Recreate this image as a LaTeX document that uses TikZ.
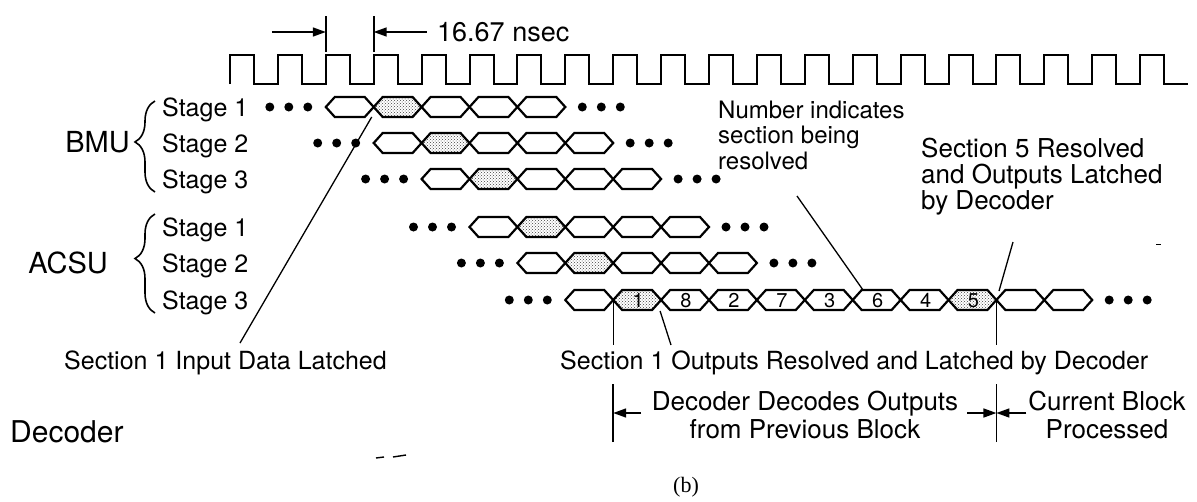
\documentclass[tikz,border=0pt]{standalone}
\usepackage{fontspec}
\setmainfont{TeX Gyre Heros}
\newfontfamily\capfont{Liberation Serif}
\usetikzlibrary{arrows.meta, decorations.pathreplacing, patterns}

\newcommand{\clkper}{47.9}
% one hexagon of a timing row, left tip at (#2,#3)
\newcommand{\hexcell}[3][]{%
  \draw[hexline,#1] (#2,#3) -- ++(9,-10) -- ++({\clkper-18},0) -- ++(9,10)
    -- ++(-9,10) -- ++({18-\clkper},0) -- cycle;}

\begin{document}
\begin{tikzpicture}[x=1pt,y=-1pt,
    hexline/.style={line width=2.2pt, line join=miter},
    hexfill/.style={pattern=crosshatch dots, pattern color=black!75},
    leader/.style={line width=1.3pt},
    dimline/.style={line width=1.6pt},
    dimarrow/.style={line width=1.6pt, -{Triangle[length=13pt,width=9pt]}},
    curly/.style={decorate, decoration={brace, amplitude=20pt, aspect=0.55}, line width=1.6pt},
    txt/.style={inner sep=0pt, font=\fontsize{25}{26}\selectfont},
    bigtxt/.style={inner sep=0pt, font=\fontsize{29}{30}\selectfont},
    numtxt/.style={inner sep=0pt, font=\fontsize{20}{20}\selectfont}]
    \useasboundingbox (0,0) rectangle (1197,501);

    % clock
    \draw[line width=2pt] (230,84) \foreach \k in {0,...,19} {
        -- ({230+\k*\clkper},55) -- ({254+\k*\clkper},55)
        -- ({254+\k*\clkper},84) -- ({230+(\k+1)*\clkper},84) };
    \coordinate (tA) at ({230+2*\clkper},32);
    \coordinate (tB) at ({230+3*\clkper},32);
    \draw[dimline] ([yshift=-20]tA) -- ([yshift=16]tA);
    \draw[dimline] ([yshift=-20]tB) -- ([yshift=16]tB);
    \draw[dimarrow] ([xshift=-54]tA) -- (tA);
    \draw[dimarrow] ([xshift=53]tB) -- (tB);
    \node[inner sep=0pt, font=\fontsize{27}{28}\selectfont, anchor=base west] (period) at (437,41.5) {16.67 nsec};

    % stage rows
    \foreach \yy [count=\r] in {107,143,179,227,263} {
        \foreach \j in {0,...,4} {
            \pgfmathsetmacro\xa{230+(\r+1+\j)*\clkper}
            \ifnum\j=1 \hexcell[hexfill]{\xa}{\yy} \else \hexcell{\xa}{\yy} \fi
        }
        \pgfmathsetmacro\xs{230+(\r+1)*\clkper}
        \pgfmathsetmacro\xe{\xs+5*\clkper}
        \foreach \d in {56,37,18} \fill ({\xs-\d},\yy) circle (4.5pt);
        \foreach \d in {17,36,55} \fill ({\xe+\d},\yy) circle (4.5pt);
    }
    \foreach \j in {0,...,10} {
        \pgfmathsetmacro\xa{230+(7+\j)*\clkper}
        \ifnum\j=1 \hexcell[hexfill]{\xa}{300} \else
        \ifnum\j=8 \hexcell[hexfill]{\xa}{300} \else \hexcell{\xa}{300} \fi\fi
    }
    \foreach \d in {56,37,18} \fill ({230+7*\clkper-\d},300) circle (4.5pt);
    \foreach \d in {17,36,55} \fill ({230+18*\clkper+\d},300) circle (4.5pt);
    \foreach \j/\lab in {1/1,2/8,3/2,4/7,5/3,6/6,7/4,8/5}
        \node[numtxt, anchor=base] (sec\lab) at ({230+(7+\j+0.5)*\clkper+1},307) {\lab};

    % unit labels
    \node[txt, anchor=base west] (stB1) at (162,116) {Stage 1};
    \node[txt, anchor=base west] (stB2) at (162,152) {Stage 2};
    \node[txt, anchor=base west] (stB3) at (162,188) {Stage 3};
    \node[txt, anchor=base west] (stA1) at (162,236) {Stage 1};
    \node[txt, anchor=base west] (stA2) at (162,272) {Stage 2};
    \node[txt, anchor=base west] (stA3) at (162,309) {Stage 3};
    \draw[curly] (155,192) -- (155,101);
    \draw[curly] (155,313) -- (155,214);
    \node[bigtxt, anchor=base east] (bmu) at (130,152.5) {BMU};
    \node[bigtxt, anchor=base east] (acsu) at (108,273.5) {ACSU};
    \node[inner sep=0pt, font=\fontsize{30}{31}\selectfont, anchor=base west] (dec) at (10,442) {Decoder};

    % notes
    \node[txt, anchor=base west] (inLatch) at (64,369) {Section 1 Input Data Latched};
    \node[txt, anchor=base west] (outLatch) at (560,369) {Section 1 Outputs Resolved and Latched by Decoder};
    \node[inner sep=0pt, font=\fontsize{24}{25.5}\selectfont, align=left, anchor=north west]
        (numNote) at (718,100.5) {Number indicates\\section being\\resolved};
    \node[inner sep=0pt, font=\fontsize{26}{26}\selectfont, align=left, anchor=north west]
        (sec5Note) at (921,137.5) {Section 5 Resolved\\and Outputs Latched\\by Decoder};
    \node[inner sep=0pt, font=\fontsize{26}{28}\selectfont, align=center, anchor=north]
        (prevBlk) at (805,390.5) {Decoder Decodes Outputs\\from Previous Block};
    \node[inner sep=0pt, font=\fontsize{26}{28}\selectfont, align=center, anchor=north]
        (curBlk) at (1107,390.5) {Current Block\\Processed};
    \node[inner sep=0pt, font=\capfont\fontsize{22}{22}\selectfont] (cap) at (686,487) {(b)};

    % leaders
    \coordinate (inX) at ({230+3*\clkper-2},117);
    \coordinate (inEnd) at (240,343);
    \coordinate (oneX) at ({230+8*\clkper},300);
    \coordinate (oneEnd) at ({230+8*\clkper},345);
    \coordinate (eightX) at ({230+9*\clkper-1},311);
    \coordinate (eightEnd) at (671,345);
    \coordinate (fiveX) at ({230+16*\clkper},300);
    \coordinate (fiveEnd) at ({230+16*\clkper},345);
    \coordinate (resStart) at (797,196);
    \coordinate (sixTop) at (863,290);
    \coordinate (s5Start) at (1013,242);
    \coordinate (s5Top) at (999,291);
    \draw[leader] (inX) -- (inEnd);
    \draw[leader] (oneX) -- (oneEnd);
    \draw[leader] (eightX) -- (eightEnd);
    \draw[leader] (fiveX) -- (fiveEnd);
    \draw[leader] (resStart) -- (sixTop);
    \draw[leader] (s5Start) -- (s5Top);

    % decoder span
    \coordinate (spanL) at ({230+8*\clkper},413);
    \coordinate (spanR) at ({230+16*\clkper},413);
    \draw[dimline] ([yshift=-29]spanL) -- ([yshift=29]spanL);
    \draw[dimline] ([yshift=-29]spanR) -- ([yshift=29]spanR);
    \draw[dimarrow] ([xshift=28]spanL) -- (spanL);
    \draw[dimarrow] ([xshift=-29]spanR) -- (spanR);
    \draw[dimarrow] ([xshift=30]spanR) -- (spanR);

    % specks
    \draw[line width=1.4pt] (376,458) -- (384,457) (393,457) -- (406,455);
    \draw[line width=1pt] (1156,244) -- (1161,244);
\end{tikzpicture}
\end{document}
